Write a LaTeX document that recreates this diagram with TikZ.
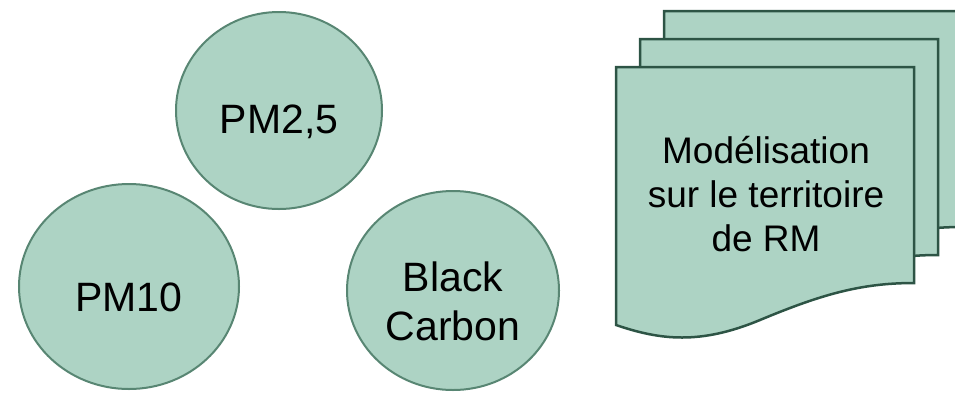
\documentclass[tikz,border=0pt]{standalone}
\usepackage{fontspec}
\setmainfont{Liberation Sans}
\usetikzlibrary{shapes.geometric}

\definecolor{pmfill}{RGB}{173,211,196}
\definecolor{pmline}{RGB}{88,134,115}
\definecolor{docline}{RGB}{45,84,69}

\begin{document}
\begin{tikzpicture}[x=1pt,y=-1pt,
    particle/.style={ellipse,draw=pmline,fill=pmfill,line width=2pt,inner sep=0pt},
    ptext/.style={font=\fontsize{41}{49}\selectfont,align=center,yshift=-11pt},
    page/.style={draw=docline,fill=pmfill,line width=2.5pt,line join=miter}]
    \useasboundingbox (0,0) rectangle (955,392);
    \clip (0,0) rectangle (955,392);

    % les polluants
    \node[particle,minimum width=206pt,minimum height=197pt,
        label={[ptext]center:PM2,5}] (pm25) at (279,110.5) {};
    \node[particle,minimum width=220pt,minimum height=205pt,
        label={[ptext]center:PM10}] (pm10) at (129,286.5) {};
    \node[particle,minimum width=212pt,minimum height=199pt,
        label={[ptext]center:Black\\Carbon}] (bc) at (453,290.5) {};

    % pile de documents
    \foreach \k in {2,1,0}{
        \draw[page,shift={(24*\k,-28*\k)}](616,67)--(914,67)--(914,283)
            .. controls (860,283) and (820,295) .. (760,320)
            .. controls (700,345) and (660,340) .. (616,325)--cycle;
    }
    \node[font=\fontsize{37}{44}\selectfont,align=center] (model) at (766,194)
        {Modélisation\\sur le territoire\\de RM};
\end{tikzpicture}
\end{document}
